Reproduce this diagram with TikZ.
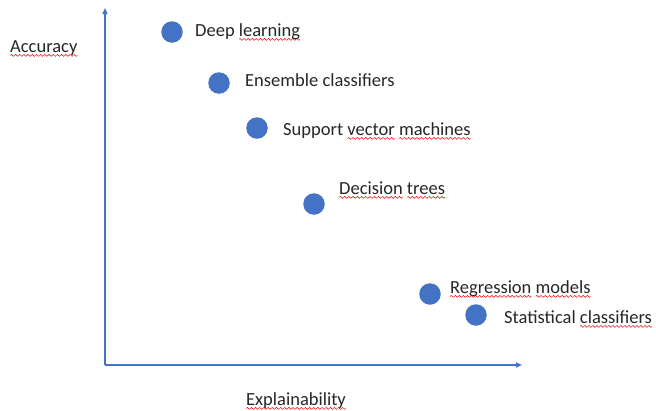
\documentclass[tikz,border=0pt]{standalone}
\usepackage{fontspec}
\setmainfont{Carlito}
\usepackage{tikz}
\usetikzlibrary{arrows.meta}
\definecolor{officeblue}{HTML}{4472C4}
% red spell-check wave under a word
\newsavebox{\wavebox}
\AtBeginDocument{\sbox{\wavebox}{\begin{pgfpicture}
    \pgfpathrectangle{\pgfpoint{0pt}{-1.2pt}}{\pgfpoint{4pt}{2.4pt}}
    \pgfusepath{use as bounding box}
    \pgfsetlinewidth{0.5pt}
    \pgfsetstrokecolor{red!90!black}
    \pgfpathmoveto{\pgfpoint{0pt}{0pt}}
    \pgfpathcurveto{\pgfpoint{0.65pt}{1.3pt}}{\pgfpoint{1.35pt}{1.3pt}}{\pgfpoint{2pt}{0pt}}
    \pgfpathcurveto{\pgfpoint{2.65pt}{-1.3pt}}{\pgfpoint{3.35pt}{-1.3pt}}{\pgfpoint{4pt}{0pt}}
    \pgfusepath{stroke}
  \end{pgfpicture}}}
\newcommand{\spellmark}[1]{\setbox0\hbox{#1}%
    \rlap{\raisebox{-4.6pt}[0pt][0pt]{\hbox to \wd0{\xleaders\copy\wavebox\hfill}}}\box0\relax}

\begin{document}
\begin{tikzpicture}[x=1pt, y=-1pt, >={Triangle[length=6pt,width=5pt]},
    dot/.style={circle, fill=officeblue, inner sep=0pt, minimum size=21.5pt},
    lbl/.style={anchor=base west, inner sep=0pt, text=black!85, font=\fontsize{18.5}{22}\selectfont}]
    \useasboundingbox (0,0) rectangle (656,410);
    \coordinate (O) at (105,365);
    \coordinate (Ytip) at (105,8);
    \coordinate (Xtip) at (522,365);
    \draw[->, officeblue, line width=1.8pt] (O) -- (Ytip);
    \draw[->, officeblue, line width=1.8pt] (O) -- (Xtip);
    \node[lbl] (acc) at (10,52) {\spellmark{Accuracy}};
    \node[lbl] (expl) at (246,405) {\spellmark{Explainability}};
    % methods, most accurate first
    \node[dot] (dl) at (172,32) {};
    \node[dot] (ens) at (219,83) {};
    \node[dot] (svm) at (257,128) {};
    \node[dot] (dt) at (314,204) {};
    \node[dot] (reg) at (430,294) {};
    \node[dot] (stat) at (476,315) {};
    \node[lbl] (dl-t) at (195,36) {Deep \spellmark{learning}};
    \node[lbl] (ens-t) at (245,86) {Ensemble classifiers};
    \node[lbl] (svm-t) at (283,135) {Support \spellmark{vector} \spellmark{machines}};
    \node[lbl] (dt-t) at (339,194) {\spellmark{Decision} \spellmark{trees}};
    \node[lbl] (reg-t) at (450,293) {\spellmark{Regression} \spellmark{models}};
    \node[lbl] (stat-t) at (504,323) {Statistical \spellmark{classifiers}};
\end{tikzpicture}
\end{document}
